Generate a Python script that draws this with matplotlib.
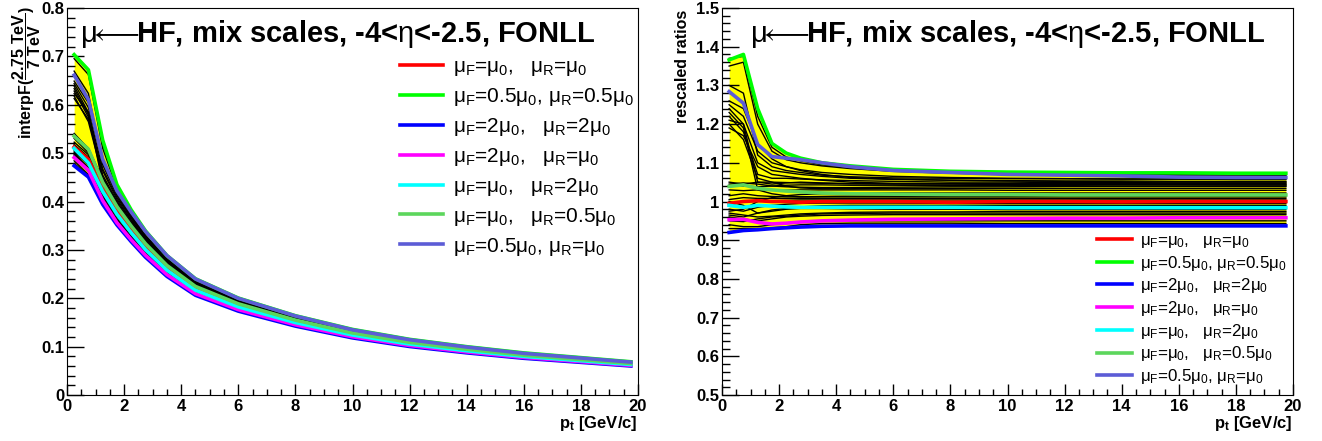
import numpy as np
import matplotlib
matplotlib.use('Agg')
import matplotlib.pyplot as plt
from matplotlib.ticker import MultipleLocator, FuncFormatter

plt.rcParams['font.family'] = ['Liberation Sans', 'DejaVu Sans']
plt.rcParams['mathtext.fontset'] = 'custom'
plt.rcParams['mathtext.rm'] = 'Liberation Sans'
plt.rcParams['mathtext.it'] = 'Liberation Sans'
plt.rcParams['mathtext.bf'] = 'Liberation Sans:bold'

# pt-Stuetzstellen [GeV/c]
pt = [0.25, 0.75, 1.25, 1.75, 2.25, 2.75, 3.5, 4.5, 6, 8, 10, 12, 14, 16, 18, 19.75]

# Normierung (interpF bei Ratio 1)
norm = [0.515, 0.487, 0.425, 0.378, 0.340, 0.305, 0.262, 0.220, 0.185, 0.152,
        0.126, 0.107, 0.093, 0.081, 0.072, 0.064]

# Ratios der Standard-Skalen
r_f1_r1 = [0.995, 1.0, 1.002, 1.0, 1.0, 0.998, 1.0, 1.0, 1.0, 0.998, 1.0, 1.0, 0.999, 1.0, 1.0, 1.0]
r_f05_r05 = [1.366, 1.38, 1.24, 1.15, 1.125, 1.112, 1.1, 1.092, 1.083, 1.078, 1.076, 1.075, 1.074, 1.074, 1.073, 1.073]
r_f2_r2 = [0.92, 0.925, 0.927, 0.93, 0.932, 0.934, 0.936, 0.937, 0.937, 0.937, 0.937, 0.937, 0.937, 0.937, 0.937, 0.937]
r_f2_r1 = [0.953, 0.954, 0.946, 0.942, 0.944, 0.947, 0.95, 0.952, 0.954, 0.955, 0.956, 0.957, 0.957, 0.958, 0.958, 0.958]
r_f1_r2 = [0.99, 0.985, 0.99, 0.988, 0.986, 0.985, 0.985, 0.985, 0.985, 0.985, 0.984, 0.984, 0.984, 0.984, 0.984, 0.984]
r_f1_r05 = [1.039, 1.043, 1.034, 1.03, 1.027, 1.025, 1.022, 1.02, 1.019, 1.018, 1.018, 1.017, 1.017, 1.017, 1.017, 1.017]
r_f05_r1 = [1.284, 1.254, 1.147, 1.116, 1.112, 1.108, 1.1, 1.09, 1.08, 1.075, 1.07, 1.068, 1.066, 1.063, 1.062, 1.062]

# gemischte Skalen, hoher Start
mix_high = [
    [1.37, 1.375, 1.22, 1.14, 1.115, 1.105, 1.095, 1.088, 1.08, 1.075, 1.072, 1.07, 1.07, 1.069, 1.069, 1.068],
    [1.35, 1.36, 1.2, 1.13, 1.108, 1.1, 1.092, 1.085, 1.078, 1.073, 1.07, 1.068, 1.067, 1.066, 1.066, 1.066],
    [1.25, 1.22, 1.13, 1.1, 1.09, 1.082, 1.075, 1.07, 1.065, 1.062, 1.06, 1.059, 1.058, 1.058, 1.057, 1.057],
    [1.24, 1.2, 1.1, 1.08, 1.075, 1.07, 1.065, 1.06, 1.057, 1.055, 1.054, 1.053, 1.053, 1.052, 1.052, 1.052],
    [1.22, 1.18, 1.07, 1.06, 1.06, 1.058, 1.056, 1.054, 1.052, 1.05, 1.05, 1.049, 1.049, 1.048, 1.048, 1.048],
    [1.21, 1.2, 1.05, 1.045, 1.048, 1.05, 1.048, 1.046, 1.045, 1.045, 1.044, 1.044, 1.043, 1.043, 1.043, 1.043],
    [1.26, 1.24, 1.15, 1.11, 1.09, 1.08, 1.07, 1.062, 1.058, 1.055, 1.053, 1.052, 1.051, 1.05, 1.05, 1.05],
    [1.19, 1.17, 1.09, 1.07, 1.065, 1.06, 1.055, 1.05, 1.047, 1.046, 1.045, 1.044, 1.044, 1.044, 1.043, 1.043],
    [1.23, 1.19, 1.03, 1.02, 1.015, 1.012, 1.012, 1.012, 1.012, 1.012, 1.012, 1.012, 1.012, 1.012, 1.012, 1.012],
    [1.3, 1.28, 1.12, 1.09, 1.08, 1.075, 1.068, 1.064, 1.061, 1.06, 1.059, 1.059, 1.058, 1.058, 1.058, 1.058],
    [1.2, 1.16, 1.06, 1.05, 1.04, 1.035, 1.033, 1.033, 1.034, 1.034, 1.034, 1.034, 1.034, 1.034, 1.034, 1.034],
]
# gemischte Skalen, niedriger Start
mix_low = [
    [1.045, 1.048, 1.045, 1.04, 1.038, 1.037, 1.036, 1.036, 1.037, 1.038, 1.038, 1.039, 1.039, 1.039, 1.039, 1.039],
    [1.04, 1.04, 1.038, 1.04, 1.042, 1.043, 1.043, 1.042, 1.042, 1.041, 1.041, 1.041, 1.04, 1.04, 1.04, 1.04],
    [1.03, 1.028, 1.03, 1.03, 1.029, 1.03, 1.03, 1.03, 1.03, 1.03, 1.029, 1.029, 1.029, 1.029, 1.029, 1.029],
    [1.005, 1.01, 1.008, 1.008, 1.008, 1.008, 1.008, 1.008, 1.008, 1.008, 1.008, 1.008, 1.008, 1.008, 1.008, 1.008],
    [0.98, 0.975, 0.985, 0.99, 0.993, 0.995, 0.996, 0.996, 0.996, 0.995, 0.995, 0.995, 0.995, 0.995, 0.995, 0.995],
    [0.97, 0.965, 0.96, 0.962, 0.965, 0.968, 0.97, 0.972, 0.973, 0.973, 0.974, 0.974, 0.974, 0.974, 0.974, 0.974],
    [0.96, 0.955, 0.95, 0.955, 0.96, 0.962, 0.964, 0.965, 0.966, 0.966, 0.966, 0.966, 0.966, 0.966, 0.966, 0.966],
    [0.94, 0.935, 0.935, 0.94, 0.945, 0.948, 0.95, 0.95, 0.95, 0.95, 0.95, 0.95, 0.95, 0.95, 0.95, 0.95],
    [0.93, 0.93, 0.93, 0.932, 0.935, 0.94, 0.943, 0.944, 0.944, 0.944, 0.943, 0.943, 0.943, 0.943, 0.943, 0.943],
    [0.975, 0.98, 1.0, 1.01, 1.015, 1.018, 1.02, 1.021, 1.022, 1.022, 1.022, 1.022, 1.022, 1.022, 1.022, 1.022],
    [1.0, 0.99, 0.97, 0.975, 0.98, 0.982, 0.982, 0.981, 0.98, 0.98, 0.979, 0.979, 0.979, 0.979, 0.979, 0.979],
    [0.95, 0.948, 0.955, 0.96, 0.962, 0.965, 0.968, 0.969, 0.97, 0.97, 0.97, 0.97, 0.97, 0.97, 0.97, 0.97],
    [1.015, 1.02, 1.015, 1.013, 1.012, 1.012, 1.013, 1.014, 1.014, 1.014, 1.015, 1.015, 1.015, 1.015, 1.015, 1.015],
    [0.99, 1.0, 1.0, 1.002, 1.003, 1.004, 1.004, 1.004, 1.004, 1.004, 1.004, 1.004, 1.004, 1.004, 1.004, 1.004],
    [0.965, 0.96, 0.97, 0.978, 0.982, 0.986, 0.989, 0.99, 0.99, 0.99, 0.99, 0.99, 0.99, 0.99, 0.99, 0.99],
    [1.05, 1.045, 1.05, 1.05, 1.049, 1.048, 1.047, 1.046, 1.046, 1.046, 1.046, 1.046, 1.046, 1.046, 1.046, 1.046],
]

std_ratios = [r_f1_r1, r_f05_r05, r_f2_r2, r_f2_r1, r_f1_r2, r_f1_r05, r_f05_r1]
std_colors = ['#ff0000', '#00ff00', '#0000ff', '#ff00ff', '#00ffff', '#5cd65c', '#5c5cd6']
std_labels = [r'$\mu_{F}$=$\mu_{0}$,   $\mu_{R}$=$\mu_{0}$',
              r'$\mu_{F}$=0.5$\mu_{0}$, $\mu_{R}$=0.5$\mu_{0}$',
              r'$\mu_{F}$=2$\mu_{0}$,   $\mu_{R}$=2$\mu_{0}$',
              r'$\mu_{F}$=2$\mu_{0}$,   $\mu_{R}$=$\mu_{0}$',
              r'$\mu_{F}$=$\mu_{0}$,   $\mu_{R}$=2$\mu_{0}$',
              r'$\mu_{F}$=$\mu_{0}$,   $\mu_{R}$=0.5$\mu_{0}$',
              r'$\mu_{F}$=0.5$\mu_{0}$, $\mu_{R}$=$\mu_{0}$']

title = r'$\mu\!\!\longleftarrow\!\!$HF, mix scales, -4<$\eta$<-2.5, FONLL'


def draw_panel(ax, scale, ylim, ymajor, leg_anchor, leg_size, leg_space):
    x = np.array(pt)
    s = np.array(scale)
    mix = [np.array(r) * s for r in mix_high + mix_low]
    std = [np.array(r) * s for r in std_ratios]
    allc = np.array(mix + std)
    ax.fill_between(x, allc.min(axis=0), allc.max(axis=0), color='#ffff00', lw=0, zorder=1)
    for y in mix:
        ax.plot(x, y, color='black', lw=1.0, zorder=2)
    handles = []
    for y, c in zip(std, std_colors):
        h, = ax.plot(x, y, color=c, lw=2.6, zorder=3)
        handles.append(h)
    ax.legend(handles, std_labels, loc='upper left', bbox_to_anchor=leg_anchor,
              frameon=False, fontsize=leg_size, handlelength=2.07,
              handletextpad=0.48, labelspacing=leg_space, borderpad=0,
              borderaxespad=0)

    ax.set_xlim(0, 20)
    ax.set_ylim(*ylim)
    ax.xaxis.set_major_locator(MultipleLocator(2))
    ax.xaxis.set_minor_locator(MultipleLocator(0.5))
    ax.yaxis.set_major_locator(MultipleLocator(ymajor))
    ax.yaxis.set_minor_locator(MultipleLocator(ymajor / 5))
    fmt = FuncFormatter(lambda v, p: '%g' % round(v, 3))
    ax.xaxis.set_major_formatter(fmt)
    ax.yaxis.set_major_formatter(fmt)
    ax.tick_params(axis='x', which='major', direction='in', length=8, width=1,
                   labelsize=12, pad=3, top=False)
    ax.tick_params(axis='x', which='minor', direction='in', length=4, width=1, top=False)
    ax.tick_params(axis='y', which='major', direction='in', length=12, width=1,
                   labelsize=12, pad=2, right=False)
    ax.tick_params(axis='y', which='minor', direction='in', length=6, width=1, right=False)
    for lab in ax.get_xticklabels() + ax.get_yticklabels():
        lab.set_fontweight('bold')
    ax.set_xlabel(r'$\mathbf{p_{t}}$ [GeV/c]', fontsize=12, fontweight='bold',
                  loc='right', labelpad=0)


fig = plt.figure(figsize=(13.22, 4.41), dpi=100)
ax1 = fig.add_axes([67 / 1322, 46 / 441, 571 / 1322, 387 / 441])
ax2 = fig.add_axes([722 / 1322, 46 / 441, 571 / 1322, 387 / 441])

draw_panel(ax1, norm, (0, 0.8), 0.1, (0.583, 0.873), 15, 0.38)
draw_panel(ax2, [1.0] * len(pt), (0.5, 1.5), 0.1, (0.657, 0.419), 12.2, 0.22)

ax1.text(13 / 571, 0.933, title, transform=ax1.transAxes,
         fontsize=21, fontweight='bold', ha='left', va='center')
ax2.text(0.5, 0.933, title, transform=ax2.transAxes,
         fontsize=21, fontweight='bold', ha='center', va='center')

fig.text(27 / 1322, 1 - 6 / 441,
         r'interpF($\dfrac{\mathbf{2.75\ TeV}}{\mathbf{7\ TeV}}$)',
         rotation=90, fontsize=11.5, fontweight='bold', ha='center', va='top')
fig.text(682 / 1322, 1 - 10 / 441, 'rescaled ratios',
         rotation=90, fontsize=11.5, fontweight='bold', ha='center', va='top')

fig.savefig('out.png', dpi=100)
